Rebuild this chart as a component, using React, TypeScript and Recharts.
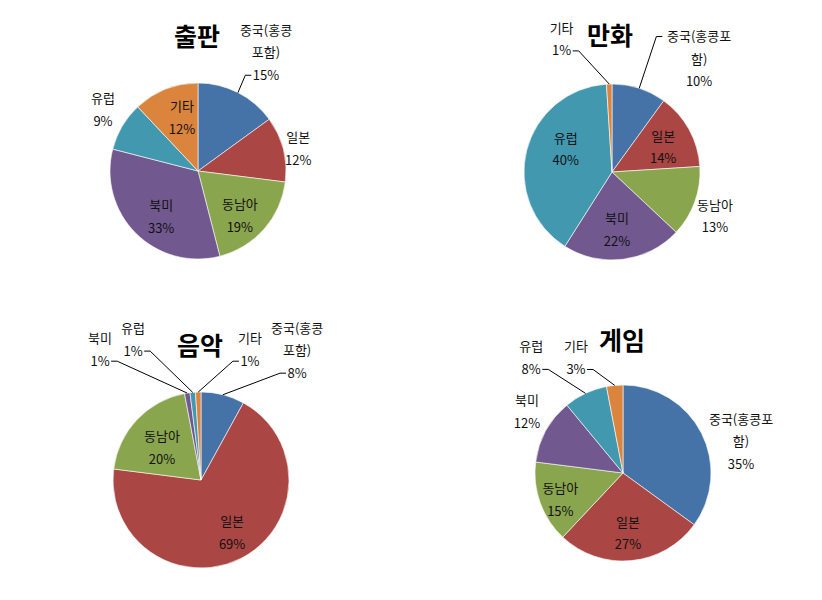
import React from "react";
import { PieChart, Pie, Cell } from "recharts";

const categories = ["중국(홍콩포함)", "일본", "동남아", "북미", "유럽", "기타"];
const titles = ["출판", "만화", "음악", "게임"];
const publishing = [15, 12, 19, 33, 9, 12];
const comics = [10, 14, 13, 22, 40, 1];
const music = [8, 69, 20, 1, 1, 1];
const games = [35, 27, 15, 12, 8, 3];
const colors = ["#4572A7", "#AA4643", "#89A54E", "#71588F", "#4198AF", "#DB843D"];

// label placement: [radius factor, angle nudge (deg), leader line, attach line index (-1 = last)]
type Place = [number, number, boolean?, number?];

const places: Place[][] = [
  [[1.56, 2.7, true], [1.17, 1.4], [0.69, 5], [0.66, -5.6], [1.29, 2.6], [0.64, 5]],
  [[1.63, 19.4, true, 0], [0.65, 2.2], [1.27, 3.1], [0.65, 2.2], [0.59, 12.6], [1.62, -18.9, true]],
  [[1.84, 22, true], [0.69, -3.8], [0.58, -3], [1.88, -28.6, true], [1.78, -20.3, true], [1.59, 22.3, true]],
  [[1.39, 11.8], [0.68, 0.6], [0.77, -2.6], [1.3, 4.1], [1.68, -13.2, true], [1.42, -16.7, true]],
];

const layouts = [
  { left: 0, top: 0, cx: 198, cy: 171, tx: 197, ty: 35, wrap: 5 },
  { left: 411, top: 0, cx: 201, cy: 172, tx: 199, ty: 34, wrap: 6 },
  { left: 0, top: 300, cx: 201, cy: 180, tx: 200, ty: 44, wrap: 5 },
  { left: 411, top: 300, cx: 212, cy: 173, tx: 211, ty: 39, wrap: 6 },
];

const FONT = "'Noto Sans CJK KR', 'Noto Sans', sans-serif";
const LH = 22.5;
const RAD = Math.PI / 180;

const wrapText = (s: string, n: number) => {
  const out: string[] = [];
  for (let i = 0; i < s.length; i += n) out.push(s.slice(i, i + n));
  return out;
};

const textWidth = (s: string) =>
  s.split("").reduce((w, c) => {
    if (/[\uAC00-\uD7A3]/.test(c)) return w + 13;
    if (c === "%") return w + 11;
    if (/[0-9]/.test(c)) return w + 7.2;
    return w + 4.5;
  }, 0);

const makeLabel = (chart: number, wrap: number) => (props: any) => {
  const { cx, cy, midAngle, outerRadius, index, name, value } = props;
  const [rk, da, leader, attach] = places[chart][index];
  const clock = 90 - midAngle;
  const phi = (clock + da) * RAD;
  const lx = cx + outerRadius * rk * Math.sin(phi);
  const ly = cy - outerRadius * rk * Math.cos(phi);
  const lines = [...wrapText(name, wrap), `${value}%`];
  const y0 = ly - ((lines.length - 1) * LH) / 2;
  let line = null;
  if (leader) {
    const a = attach === undefined || attach < 0 ? lines.length - 1 : attach;
    const ay = y0 + a * LH + 1;
    const ex = cx + outerRadius * Math.sin(clock * RAD);
    const ey = cy - outerRadius * Math.cos(clock * RAD);
    const half = textWidth(lines[a]) / 2;
    const right = lx > ex;
    const ax = right ? lx - half - 2 : lx + half + 2;
    const bx = right ? ax - 6 : ax + 6;
    line = (
      <polyline
        points={`${ex},${ey} ${bx},${ay} ${ax},${ay}`}
        fill="none"
        stroke="#000"
        strokeWidth={1}
      />
    );
  }
  return (
    <g key={`lbl-${index}`}>
      {line}
      {lines.map((t, i) => (
        <text
          key={i}
          x={lx}
          y={y0 + i * LH}
          textAnchor="middle"
          dominantBaseline="central"
          fontFamily={FONT}
          fontSize={13}
          fill="#111"
        >
          {t}
        </text>
      ))}
    </g>
  );
};

const series = [publishing, comics, music, games];

const App = () => {
  return (
    <div style={{ position: "absolute", left: 0, top: 0, width: 822, height: 600, background: "#fff" }}>
      {series.map((vals, c) => {
        const L = layouts[c];
        const rows = categories.map((name, i) => ({ name, value: vals[i] }));
        return (
          <div key={c} style={{ position: "absolute", left: L.left, top: L.top, width: 411, height: 300 }}>
            <div
              style={{
                position: "absolute",
                left: L.tx - 60,
                top: L.ty - 17,
                width: 120,
                textAlign: "center",
                fontFamily: FONT,
                fontWeight: 700,
                fontSize: 25,
                lineHeight: "34px",
                color: "#000",
              }}
            >
              {titles[c]}
            </div>
            <PieChart
              width={411}
              height={300}
              margin={{ top: 0, right: 0, bottom: 0, left: 0 }}
              style={{ position: "absolute", left: 0, top: 0 }}
            >
              <Pie
                data={rows}
                dataKey="value"
                nameKey="name"
                cx={L.cx}
                cy={L.cy}
                outerRadius={88}
                startAngle={90}
                endAngle={-270}
                stroke="#ffffff"
                strokeWidth={0.6}
                label={makeLabel(c, L.wrap)}
                labelLine={false}
                isAnimationActive={false}
              >
                {rows.map((r, i) => (
                  <Cell key={r.name} fill={colors[i]} />
                ))}
              </Pie>
            </PieChart>
          </div>
        );
      })}
    </div>
  );
};

export default App;
